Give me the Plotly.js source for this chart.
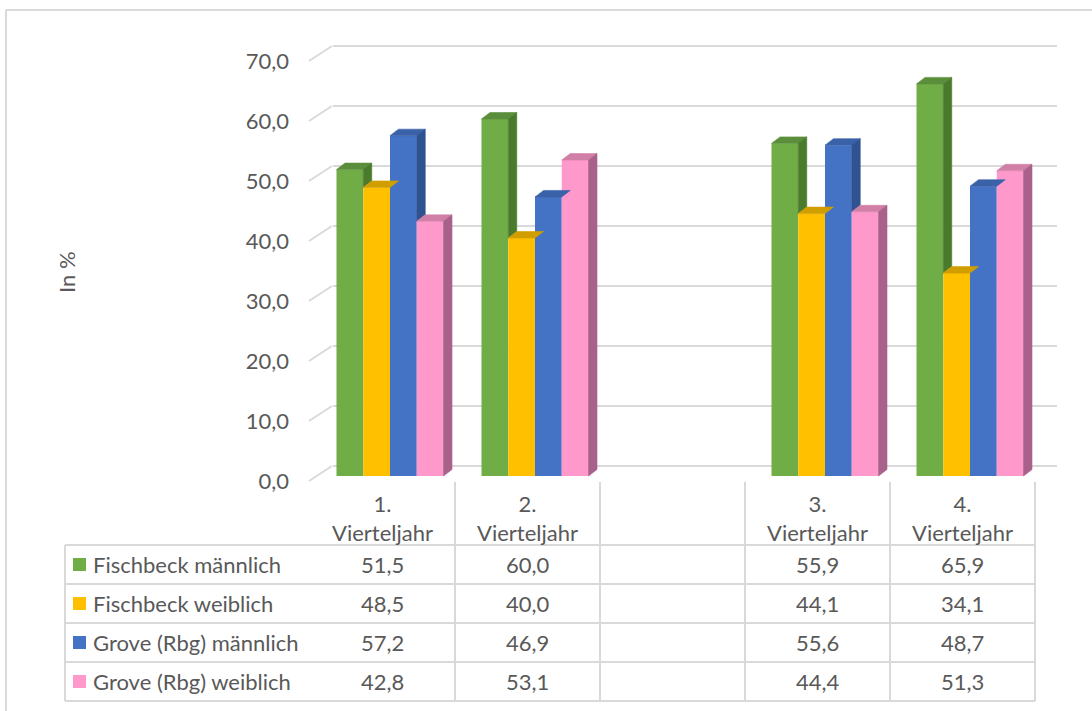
<!DOCTYPE html>
<html><head><meta charset="utf-8">
<script src="https://cdn.plot.ly/plotly-3.0.1.min.js"></script>
<style>html,body{margin:0;padding:0;background:#fff}</style>
</head><body><div id="chart" style="width:1092px;height:711px"></div>
<script>
// ---- data ----
const categories = ['1.<br>Vierteljahr', '2.<br>Vierteljahr', '', '3.<br>Vierteljahr', '4.<br>Vierteljahr'];
const seriesNames = ['Fischbeck männlich', 'Fischbeck weiblich', 'Grove (Rbg) männlich', 'Grove (Rbg) weiblich'];
const fischbeckMaennlich = [51.5, 60.0, null, 55.9, 65.9];
const fischbeckWeiblich  = [48.5, 40.0, null, 44.1, 34.1];
const groveMaennlich     = [57.2, 46.9, null, 55.6, 48.7];
const groveWeiblich      = [42.8, 53.1, null, 44.4, 51.3];
const yTickValues = [0, 10, 20, 30, 40, 50, 60, 70];
const yAxisTitle = 'In %';

// ---- styles ----
const colorsFront = ['#70AD47', '#FFC000', '#4472C4', '#FF99CC'];
const colorsTop   = ['#5B8E3A', '#D19E00', '#3A62A8', '#D27FA8'];
const colorsSide  = ['#4A7A2C', '#B38600', '#2F5290', '#A8618A'];
const FONT = 'Lato, "Open Sans", sans-serif';
const FS = 22;
const TXT = '#595959';
const GRID = '#D9D9D9';

const series = [fischbeckMaennlich, fischbeckWeiblich, groveMaennlich, groveWeiblich];
const W = 1092, H = 711;
const px = x => x / W;
const py = y => 1 - y / H;
const idx = categories.map((c, i) => i);

const GW = 0.738;          // group width (category units)
const BW = GW / 4;         // bar width
const BAR_PXU = 5.95;      // px per value unit for bars
const DX = 8.5 / 145;      // depth offset x (category units)
const DY = 6.5 / BAR_PXU;  // depth offset y (value units)

const traces = [];
// front faces (bars)
series.forEach((vals, j) => {
  traces.push({
    type: 'bar', x: idx, y: vals, width: BW, offset: -GW / 2 + j * BW,
    marker: {color: colorsFront[j], line: {width: 0}},
    name: seriesNames[j], showlegend: false, hoverinfo: 'skip',
    xaxis: 'x', yaxis: 'y'
  });
});
// top and side faces
idx.forEach(i => {
  series.forEach((vals, j) => {
    const h = vals[i];
    if (h == null) return;
    const xl = i - GW / 2 + j * BW, xr = xl + BW;
    traces.push({
      type: 'scatter', mode: 'lines', fill: 'toself', fillcolor: colorsTop[j],
      x: [xl, xl + DX, xr + DX, xr, xl], y: [h, h + DY, h + DY, h, h],
      line: {width: 0.6, color: colorsTop[j]}, showlegend: false, hoverinfo: 'skip',
      xaxis: 'x', yaxis: 'y'
    });
    const next = (j < 3) ? series[j + 1][i] : null;
    const low = (next == null) ? 0 : Math.max(0, next);
    if (h > low) {
      traces.push({
        type: 'scatter', mode: 'lines', fill: 'toself', fillcolor: colorsSide[j],
        x: [xr, xr + DX, xr + DX, xr, xr], y: [low, low + DY, h + DY, h, low],
        line: {width: 0.6, color: colorsSide[j]}, showlegend: false, hoverinfo: 'skip',
        xaxis: 'x', yaxis: 'y'
      });
    }
  });
});
// helper traces so overlay subplots exist
traces.push({type: 'scatter', x: [], y: [], xaxis: 'x', yaxis: 'y3', showlegend: false, hoverinfo: 'skip'});
traces.push({type: 'scatter', x: [], y: [], xaxis: 'x', yaxis: 'y4', showlegend: false, hoverinfo: 'skip'});
traces.push({type: 'scatter', x: [], y: [], xaxis: 'x2', yaxis: 'y', showlegend: false, hoverinfo: 'skip'});

const yDom = [py(486), py(40)];
const xDom = [px(333), px(1057)];
const PXU = 6; // px per value unit (axis / grid)
const spanX = (1057 - 333) / 145;
const yRange = (zeroPx, pxu) => { const a = -(486 - zeroPx) / pxu; return [a, a + (486 - 40) / pxu]; };
const xRange = zeroPx => { const a = -(zeroPx - 333) / 145; return [a, a + spanX]; };

const shapes = [];
const annotations = [];
const line = {color: GRID, width: 2};

// side-wall diagonals
yTickValues.forEach(v => {
  shapes.push({type: 'line', xref: 'paper', yref: 'y3', x0: px(309), y0: v - 15 / PXU, x1: px(332), y1: v, line: {color: GRID, width: 2}, layer: 'below'});
});
// outer border
shapes.push({type: 'line', xref: 'paper', yref: 'paper', x0: px(6), x1: 1, y0: py(10), y1: py(10), line});
shapes.push({type: 'line', xref: 'paper', yref: 'paper', x0: px(6), x1: px(6), y0: py(10), y1: 0, line});
// table
const rowTops = [545, 584, 623, 662, 701];
rowTops.forEach(y => shapes.push({type: 'line', xref: 'paper', yref: 'paper', x0: px(65), x1: px(1035), y0: py(y), y1: py(y), line}));
shapes.push({type: 'line', xref: 'paper', yref: 'paper', x0: px(65), x1: px(65), y0: py(545), y1: py(701), line});
for (let k = 0; k <= categories.length; k++) {
  shapes.push({type: 'line', xref: 'x2', yref: 'paper', x0: k - 0.5, x1: k - 0.5, y0: py(482), y1: py(701), line});
}
// header labels
categories.forEach((c, i) => {
  if (!c) return;
  annotations.push({xref: 'x2', yref: 'paper', x: i, y: py(518), text: c, showarrow: false,
    xanchor: 'center', yanchor: 'middle', font: {family: FONT, size: FS, color: TXT}});
});
const fmt = v => v.toFixed(1).replace('.', ',');
series.forEach((vals, j) => {
  const yc = (rowTops[j] + rowTops[j + 1]) / 2;
  shapes.push({type: 'rect', xref: 'paper', yref: 'paper', x0: px(73), x1: px(86), y0: py(yc + 6.5), y1: py(yc - 6.5), fillcolor: colorsFront[j], line: {width: 0}});
  annotations.push({xref: 'paper', yref: 'paper', x: px(91), y: py(yc), text: seriesNames[j], showarrow: false,
    xanchor: 'left', yanchor: 'middle', font: {family: FONT, size: FS, color: TXT}});
  vals.forEach((v, i) => {
    if (v == null) return;
    annotations.push({xref: 'x2', yref: 'paper', x: i, y: py(yc), text: fmt(v), showarrow: false,
      xanchor: 'center', yanchor: 'middle', font: {family: FONT, size: FS, color: TXT}});
  });
});
annotations.push({xref: 'paper', yref: 'paper', x: px(67), y: py(272), text: yAxisTitle, textangle: -90,
  showarrow: false, xanchor: 'center', yanchor: 'middle', font: {family: FONT, size: FS, color: TXT}});

const layout = {
  width: W, height: H, autosize: false,
  margin: {l: 0, r: 0, t: 0, b: 0},
  paper_bgcolor: '#fff', plot_bgcolor: 'rgba(0,0,0,0)',
  separators: ',.',
  barmode: 'overlay',
  showlegend: false,
  xaxis: {domain: xDom, range: xRange(390), visible: false, fixedrange: true},
  xaxis2: {overlaying: 'x', anchor: 'y', range: xRange(382.5), visible: false, fixedrange: true},
  yaxis: {domain: yDom, range: yRange(476, BAR_PXU), visible: false, fixedrange: true},
  yaxis3: {overlaying: 'y', anchor: 'x', range: yRange(466, PXU), tickvals: yTickValues,
    showgrid: true, gridcolor: GRID, gridwidth: 2, zeroline: false, showticklabels: false,
    ticks: '', showline: false, fixedrange: true},
  yaxis4: {overlaying: 'y', anchor: 'free', position: px(289), range: yRange(481, PXU), tickvals: yTickValues,
    tickformat: '.1f', showgrid: false, zeroline: false, showline: false, ticks: '',
    tickfont: {family: FONT, size: FS, color: TXT}, fixedrange: true},
  shapes, annotations
};
Plotly.newPlot('chart', traces, layout, {displayModeBar: false, staticPlot: true});
</script>
</body></html>
